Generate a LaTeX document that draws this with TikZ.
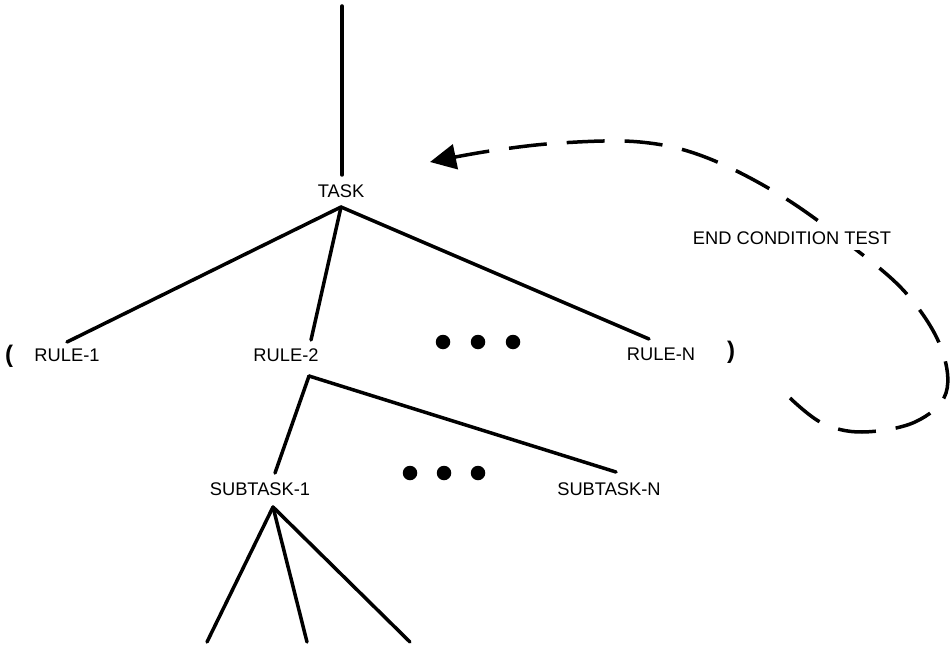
\documentclass[tikz,border=0pt]{standalone}
\usepackage{fontspec}
\setmainfont{Liberation Sans}
\usetikzlibrary{arrows.meta}
\begin{document}
\begin{tikzpicture}[x=1pt,y=-1pt,
  lbl/.style={font=\fontsize{18.3}{21}\selectfont, inner sep=0pt, text depth=0pt},
  paren/.style={font=\fontsize{24}{27}\selectfont\bfseries, inner sep=0pt},
  branch/.style={line width=3.5pt, line cap=round},
  dot/.style={circle, fill=black, inner sep=0pt, minimum size=14.5pt},
  loopback/.style={line width=3.5pt, dash pattern=on 38pt off 20pt,
    -{Triangle[length=26pt,width=25pt]}}]
\useasboundingbox (0,0) rectangle (952,647);

% labels
\node[lbl] (task) at (341,191) {TASK};
\node[lbl] (r1) at (67,355) {RULE-1};
\node[lbl] (r2) at (286,355) {RULE-2};
\node[lbl] (rn) at (661,354) {RULE-N};
\node[lbl] (s1) at (260,489) {SUBTASK-1};
\node[lbl] (sn) at (609,489) {SUBTASK-N};
\node[paren] (lp) at (9,356) {(};
\node[paren] (rp) at (731,352) {)};

% ellipses
\node[dot] (d1) at (443,342) {};
\node[dot] (d2) at (478,342) {};
\node[dot] (d3) at (513,342) {};
\node[dot] (e1) at (410,473) {};
\node[dot] (e2) at (444,473) {};
\node[dot] (e3) at (478,473) {};

% attachment points of the branches
\coordinate (top) at (342,6);
\coordinate (taskN) at (342,175);
\coordinate (taskS) at (341,207);
\coordinate (r1N) at (67,342);
\coordinate (r2N) at (311,340);
\coordinate (rnN) at (649,339);
\coordinate (r2S) at (309,376);
\coordinate (s1N) at (275,473);
\coordinate (snN) at (616,472);
\coordinate (s1S) at (273,507);
\coordinate (l1) at (207,642);
\coordinate (l2) at (307,642);
\coordinate (l3) at (410,642);

% tree
\draw[branch] (top) -- (taskN);
\draw[branch] (taskS) -- (r1N);
\draw[branch] (taskS) -- (r2N);
\draw[branch] (taskS) -- (rnN);
\draw[branch] (r2S) -- (s1N);
\draw[branch] (r2S) -- (snN);
\draw[branch] (s1S) -- (l1);
\draw[branch] (s1S) -- (l2);
\draw[branch] (s1S) -- (l3);

% end-condition loop back to the task
\coordinate (c0) at (790,398);
\coordinate (c1) at (822,423);
\coordinate (c2) at (862,432);
\coordinate (c3) at (915,422);
\coordinate (c4) at (946,393);
\coordinate (c5) at (940,345);
\coordinate (c6) at (905,292);
\coordinate (c7) at (850,245);
\coordinate (c8) at (780,195);
\coordinate (c9) at (705,157);
\coordinate (c10) at (640,142);
\coordinate (c11) at (560,143);
\coordinate (c12) at (490,151);
\coordinate (tip) at (430,162);
\draw[loopback] plot[smooth, tension=0.6] coordinates
  {(c0) (c1) (c2) (c3) (c4) (c5) (c6) (c7) (c8) (c9) (c10) (c11) (c12) (tip)};

\node[lbl, fill=white, inner sep=6pt] (test) at (792,238) {END CONDITION TEST};
\end{tikzpicture}
\end{document}
